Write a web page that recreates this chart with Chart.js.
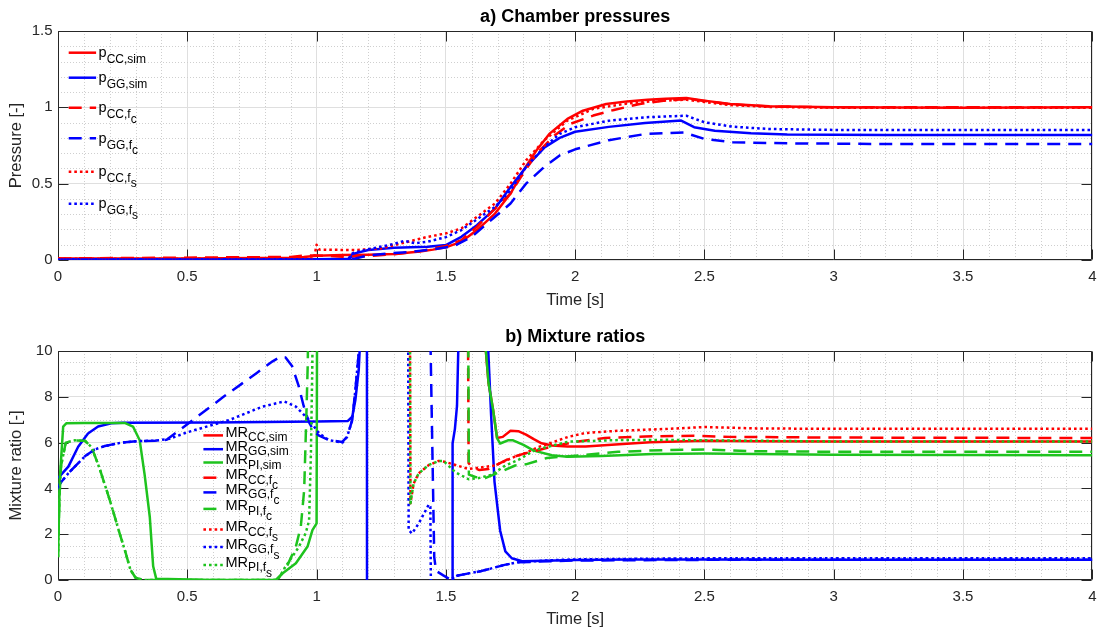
<!DOCTYPE html>
<html lang="en">
<head>
<meta charset="utf-8">
<title>Chamber pressures and mixture ratios</title>
<script src="https://cdn.jsdelivr.net/npm/chart.js@4.4.1/dist/chart.umd.min.js"></script>
<style>
  body { margin: 0; background: #fff; }
  canvas { display: block; }
</style>
</head>
<body>
<canvas id="pressureChart" width="1104" height="315"></canvas>
<canvas id="mixtureChart" width="1104" height="315"></canvas>
<script>
// Tick labels
const timeTicks = [0, 0.5, 1, 1.5, 2, 2.5, 3, 3.5, 4];
const pressureTicks = [0, 0.5, 1, 1.5];
const mixtureTicks = [0, 2, 4, 6, 8, 10];

// a) Chamber pressures
const tPccSim = [0, 0.5, 0.9, 0.95, 1.0, 1.1, 1.2, 1.3, 1.4, 1.45, 1.5, 1.56, 1.62, 1.69, 1.75, 1.8, 1.85, 1.9, 1.97, 2.03, 2.12, 2.2, 2.28, 2.35, 2.43, 2.5, 2.6, 2.75, 3.0, 3.5, 4.0];
const pCcSim = [0.01, 0.01, 0.015, 0.02, 0.028, 0.033, 0.035, 0.04, 0.055, 0.068, 0.083, 0.12, 0.196, 0.304, 0.435, 0.587, 0.717, 0.826, 0.924, 0.978, 1.022, 1.039, 1.05, 1.056, 1.061, 1.044, 1.022, 1.007, 1.0, 0.998, 1.0];
const tPggSim = [0, 1.0, 1.13, 1.14, 1.2, 1.3, 1.43, 1.5, 1.56, 1.62, 1.69, 1.75, 1.81, 1.88, 1.94, 2.0, 2.13, 2.27, 2.41, 2.46, 2.54, 2.68, 2.82, 3.2, 4.0];
const pGgSim = [0.005, 0.005, 0.008, 0.04, 0.065, 0.08, 0.087, 0.098, 0.152, 0.228, 0.337, 0.478, 0.609, 0.735, 0.8, 0.84, 0.872, 0.897, 0.913, 0.87, 0.847, 0.83, 0.822, 0.819, 0.819];
const tPccFc = [0, 0.9, 0.95, 1.0, 1.1, 1.2, 1.3, 1.4, 1.45, 1.5, 1.56, 1.62, 1.69, 1.75, 1.79, 1.85, 1.92, 1.98, 2.07, 2.15, 2.25, 2.35, 2.43, 2.5, 2.6, 2.75, 3.0, 4.0];
const pCcFc = [0.01, 0.02, 0.03, 0.03, 0.022, 0.025, 0.038, 0.058, 0.075, 0.092, 0.13, 0.217, 0.337, 0.435, 0.543, 0.696, 0.815, 0.891, 0.946, 0.983, 1.022, 1.045, 1.055, 1.042, 1.02, 1.005, 1.0, 1.0];
const tPggFc = [0, 1.1, 1.15, 1.2, 1.28, 1.37, 1.45, 1.53, 1.6, 1.69, 1.75, 1.81, 1.88, 1.94, 2.0, 2.13, 2.27, 2.42, 2.5, 2.61, 2.82, 3.2, 4.0];
const pGgFc = [0.003, 0.003, 0.01, 0.03, 0.043, 0.054, 0.07, 0.09, 0.152, 0.283, 0.37, 0.5, 0.609, 0.685, 0.725, 0.785, 0.825, 0.836, 0.793, 0.771, 0.764, 0.76, 0.76];
const tPccFs = [0, 0.99, 1.0, 1.01, 1.15, 1.25, 1.35, 1.43, 1.5, 1.56, 1.69, 1.75, 1.81, 1.88, 1.97, 2.07, 2.2, 2.3, 2.43, 2.5, 2.6, 2.75, 3.0, 4.0];
const pCcFs = [0.008, 0.01, 0.1, 0.068, 0.065, 0.076, 0.118, 0.152, 0.174, 0.207, 0.37, 0.5, 0.652, 0.783, 0.913, 0.99, 1.025, 1.04, 1.05, 1.035, 1.015, 1.003, 0.998, 0.998];
const tPggFs = [0, 1.12, 1.14, 1.2, 1.3, 1.34, 1.38, 1.43, 1.5, 1.56, 1.69, 1.75, 1.81, 1.88, 1.94, 2.0, 2.13, 2.27, 2.43, 2.5, 2.61, 2.75, 3.0, 4.0];
const pGgFs = [0.003, 0.003, 0.045, 0.07, 0.105, 0.126, 0.11, 0.12, 0.15, 0.196, 0.348, 0.457, 0.609, 0.739, 0.826, 0.87, 0.912, 0.935, 0.945, 0.902, 0.873, 0.858, 0.852, 0.852];

// b) Mixture ratios (values above 10 / below 0 run off the axes)
const tMrCcSim = [1.64, 1.665, 1.683, 1.698, 1.72, 1.75, 1.78, 1.81, 1.84, 1.87, 1.91, 1.97, 2.04, 2.17, 2.29, 2.5, 2.7, 3.0, 4.0];
const mrCcSim = [12, 8.6, 7.4, 6.2, 6.25, 6.52, 6.5, 6.35, 6.15, 5.97, 5.87, 5.83, 5.83, 5.93, 6.02, 6.08, 6.06, 6.05, 6.05];
const tMrGgSim = [0, 0.04, 0.078, 0.116, 0.155, 0.206, 0.25, 0.6, 1.0, 1.12, 1.138, 1.15, 1.163, 1.175, 1.194, 1.196, 1.524, 1.526, 1.535, 1.543, 1.552, 1.655, 1.662, 1.675, 1.688, 1.71, 1.73, 1.755, 1.795, 1.88, 2.0, 2.2, 2.5, 3.0, 4.0];
const mrGgSim = [4.45, 4.95, 5.82, 6.4, 6.7, 6.84, 6.87, 6.88, 6.92, 6.94, 7.13, 7.86, 9.17, 12, 40, -40, -40, 5.97, 6.6, 7.6, 12, 12, 10.5, 7.2, 4.3, 2.15, 1.25, 0.95, 0.82, 0.84, 0.87, 0.9, 0.9, 0.88, 0.88];
const tMrPiSim = [0, 0.007, 0.02, 0.033, 0.1, 0.258, 0.29, 0.316, 0.335, 0.355, 0.368, 0.38, 0.6, 0.843, 0.869, 0.92, 0.965, 0.984, 1.0, 1.002, 1.64, 1.665, 1.683, 1.698, 1.71, 1.74, 1.76, 1.8, 1.84, 1.91, 1.97, 2.1, 2.3, 2.5, 3.0, 4.0];
const mrPiSim = [1.0, 4.4, 6.7, 6.85, 6.86, 6.86, 6.7, 6.1, 4.6, 2.75, 0.6, 0.05, 0, 0, 0.29, 0.73, 1.46, 2.18, 2.47, 12, 12, 8.6, 7.4, 6.2, 5.96, 6.1, 6.1, 5.9, 5.65, 5.45, 5.38, 5.42, 5.5, 5.52, 5.47, 5.45];
const tMrCcFc = [1.585, 1.588, 1.6, 1.63, 1.665, 1.7, 1.754, 1.806, 1.86, 1.909, 2.012, 2.115, 2.27, 2.46, 2.6, 3.0, 4.0];
const mrCcFc = [12, 5.1, 4.95, 4.8, 4.85, 5.05, 5.35, 5.53, 5.68, 5.82, 6.05, 6.2, 6.27, 6.3, 6.25, 6.22, 6.2];
const tMrGgFc = [0, 0.007, 0.04, 0.104, 0.142, 0.181, 0.245, 0.31, 0.374, 0.42, 0.5, 0.64, 0.77, 0.83, 0.86, 0.88, 0.905, 0.93, 0.95, 0.97, 0.99, 1.01, 1.048, 1.099, 1.118, 1.138, 1.15, 1.163, 1.172, 1.438, 1.455, 1.462, 1.49, 1.513, 1.547, 1.637, 1.727, 1.778, 1.9, 2.0, 2.5, 3.0, 4.0];
const mrGgFc = [3.97, 4.2, 4.66, 5.4, 5.7, 5.85, 6.0, 6.07, 6.08, 6.12, 6.8, 8.0, 9.05, 9.55, 9.75, 9.72, 9.35, 8.5, 7.6, 6.9, 6.5, 6.3, 6.11, 6.03, 6.25, 6.99, 8.3, 9.9, 12, 12, 1.0, 0.4, 0.2, 0.05, 0.2, 0.39, 0.66, 0.77, 0.82, 0.85, 0.88, 0.88, 0.88];
const tMrPiFc = [0, 0.005, 0.012, 0.03, 0.065, 0.104, 0.13, 0.16, 0.2, 0.238, 0.26, 0.28, 0.3, 0.33, 0.6, 0.843, 0.862, 0.888, 0.92, 0.939, 0.952, 0.96, 0.966, 0.968, 1.586, 1.589, 1.614, 1.652, 1.716, 1.768, 1.809, 1.891, 2.037, 2.166, 2.36, 2.5, 2.7, 3.0, 4.0];
const mrPiFc = [1.0, 3.5, 5.0, 6.0, 6.1, 6.08, 5.8, 4.9, 3.5, 2.05, 1.25, 0.45, 0.1, 0, 0, 0, 0.22, 0.66, 1.46, 2.33, 3.93, 7.0, 9.5, 12, 12, 4.6, 4.5, 4.45, 4.75, 5.0, 5.05, 5.33, 5.46, 5.6, 5.68, 5.7, 5.62, 5.6, 5.6];
const tMrCcFs = [1.361, 1.363, 1.375, 1.395, 1.434, 1.472, 1.5, 1.537, 1.588, 1.627, 1.69, 1.767, 1.81, 1.857, 1.909, 1.973, 2.04, 2.17, 2.36, 2.5, 2.7, 3.0, 4.0];
const mrCcFs = [12, 3.35, 4.2, 4.66, 5.02, 5.2, 5.15, 5.02, 4.85, 4.9, 5.0, 5.39, 5.55, 5.8, 6.0, 6.25, 6.42, 6.52, 6.6, 6.68, 6.62, 6.6, 6.6];
const tMrGgFs = [0, 0.007, 0.04, 0.104, 0.142, 0.181, 0.245, 0.31, 0.374, 0.432, 0.5, 0.663, 0.791, 0.875, 0.92, 0.971, 1.01, 1.048, 1.1, 1.118, 1.138, 1.15, 1.163, 1.172, 1.354, 1.356, 1.369, 1.395, 1.42, 1.434, 1.44, 1.443, 1.51, 1.52, 1.547, 1.637, 1.727, 1.778, 1.9, 2.0, 2.5, 3.0, 4.0];
const mrGgFs = [3.97, 4.2, 4.66, 5.4, 5.7, 5.85, 6.0, 6.07, 6.08, 6.17, 6.45, 6.99, 7.57, 7.8, 7.57, 6.99, 6.4, 6.11, 6.0, 6.25, 6.99, 8.3, 9.9, 12, 12, 2.18, 2.03, 2.47, 3.0, 3.3, 3.2, -2, -2, 0.05, 0.2, 0.39, 0.66, 0.77, 0.86, 0.9, 0.95, 0.95, 0.95];
const tMrPiFs = [0, 0.005, 0.012, 0.03, 0.065, 0.104, 0.13, 0.16, 0.2, 0.238, 0.26, 0.28, 0.3, 0.33, 0.6, 0.85, 0.875, 0.93, 0.958, 0.971, 0.978, 0.983, 0.986, 1.361, 1.363, 1.375, 1.395, 1.434, 1.472, 1.491, 1.537, 1.588, 1.627, 1.678, 1.73, 1.78, 1.845, 1.973, 2.166, 2.36, 2.5, 3.0, 4.0];
const mrPiFs = [1.0, 3.5, 5.0, 6.0, 6.1, 6.08, 5.8, 4.9, 3.5, 2.05, 1.25, 0.45, 0.1, 0, 0, 0, 0.5, 1.42, 2.05, 2.59, 5.5, 9.0, 12, 12, 3.35, 4.2, 4.66, 5.02, 5.2, 5.2, 4.7, 4.4, 4.45, 4.6, 5.0, 5.24, 5.68, 6.04, 6.11, 6.12, 6.1, 6.05, 6.05];

const FONT = "'Liberation Sans', Arial, Helvetica, sans-serif";
const RED = '#ff0000', BLUE = '#0000ff', GREEN = '#1ec31e';
const SOLID = [], DASHED = [13, 8], DOTTED = [2.6, 3];
const AXIS_COLOR = '#262626';

Chart.defaults.font.family = FONT;

function toPoints(t, v) {
    return t.map((x, i) => ({ x: x, y: v[i] }));
}

// later series are drawn on top, as in the original plot
function makeDatasets(list) {
    return list.map((s, i) => ({
        label: s.parts.join(''),
        labelParts: s.parts,
        data: toPoints(s.t, s.v),
        borderColor: s.color,
        borderDash: s.dash,
        borderWidth: 2.5,
        borderCapStyle: 'butt',
        borderJoinStyle: 'round',
        pointRadius: 0,
        tension: 0,
        fill: false,
        order: list.length - i
    }));
}

function minorValues(min, max, step, majors) {
    const out = [];
    for (let k = 1; min + k * step < max - 1e-9; k++) {
        const v = min + k * step;
        if (!majors.some(m => Math.abs(m - v) < 1e-9)) out.push(v);
    }
    return out;
}

// Minor dotted grid, axes box and inward tick marks
const matlabAxes = {
    id: 'matlabAxes',
    beforeDatasetsDraw(chart, args, o) {
        const { ctx, chartArea: a, scales: { x, y } } = chart;
        const px = v => Math.round(x.getPixelForValue(v)) + 0.5;
        const py = v => Math.round(y.getPixelForValue(v)) + 0.5;
        ctx.save();
        ctx.lineWidth = 1;
        ctx.strokeStyle = '#cfcfcf';
        ctx.setLineDash([1, 2]);
        ctx.beginPath();
        minorValues(x.min, x.max, o.xMinor, o.xTicks).forEach(v => {
            ctx.moveTo(px(v), a.top);
            ctx.lineTo(px(v), a.bottom);
        });
        minorValues(y.min, y.max, o.yMinor, o.yTicks).forEach(v => {
            ctx.moveTo(a.left, py(v));
            ctx.lineTo(a.right, py(v));
        });
        ctx.stroke();

        ctx.setLineDash([]);
        ctx.strokeStyle = AXIS_COLOR;
        ctx.beginPath();
        const l = Math.round(a.left) + 0.5, r = Math.round(a.right) - 0.5;
        const t = Math.round(a.top) + 0.5, b = Math.round(a.bottom) - 0.5;
        ctx.rect(l, t, r - l, b - t);
        o.xTicks.forEach(v => {
            ctx.moveTo(px(v), b); ctx.lineTo(px(v), b - o.tickLen);
            ctx.moveTo(px(v), t); ctx.lineTo(px(v), t + o.tickLen);
        });
        o.yTicks.forEach(v => {
            ctx.moveTo(l, py(v)); ctx.lineTo(l + o.tickLen, py(v));
            ctx.moveTo(r, py(v)); ctx.lineTo(r - o.tickLen, py(v));
        });
        ctx.stroke();
        ctx.restore();
    }
};

// Legend with TeX-like subscripts
const texLegend = {
    id: 'texLegend',
    afterDatasetsDraw(chart, args, o) {
        const ctx = chart.ctx;
        chart.data.datasets.forEach((ds, i) => {
            const y = o.rows[i];
            ctx.save();
            ctx.beginPath();
            ctx.strokeStyle = ds.borderColor;
            ctx.lineWidth = ds.borderWidth;
            ctx.lineCap = 'butt';
            ctx.setLineDash(ds.borderDash);
            ctx.moveTo(o.left, y);
            ctx.lineTo(o.left + o.sample, y);
            ctx.stroke();
            ctx.setLineDash([]);
            ctx.fillStyle = '#000';
            ctx.textBaseline = 'alphabetic';
            let tx = o.left + o.sample + o.gap;
            let ty = y + o.baseline;
            ds.labelParts.forEach((part, k) => {
                if (k > 0) ty += o.subDrop[k - 1];
                ctx.font = (k === 0 ? o.mainSize : o.subSize) + 'px ' + FONT;
                ctx.fillText(part, tx, ty);
                tx += ctx.measureText(part).width;
            });
            ctx.restore();
        });
    }
};

const plainNumber = value => String(+value.toFixed(3));

function buildChart(id, cfg) {
    return new Chart(document.getElementById(id), {
        type: 'line',
        data: { datasets: makeDatasets(cfg.series) },
        options: {
            responsive: false,
            animation: false,
            devicePixelRatio: 1,
            events: [],
            layout: { padding: { left: 0, right: 8, top: 0, bottom: 0 } },
            scales: {
                x: {
                    type: 'linear',
                    min: 0,
                    max: 4,
                    afterBuildTicks: s => { s.ticks = timeTicks.map(v => ({ value: v })); },
                    afterFit: s => { s.height = cfg.xHeight; },
                    grid: { color: '#dfdfdf', drawTicks: false },
                    border: { display: false },
                    ticks: { color: AXIS_COLOR, font: { size: 15 }, padding: 7.5, maxRotation: 0, autoSkip: false, callback: plainNumber },
                    title: {
                        display: true,
                        text: 'Time [s]',
                        color: AXIS_COLOR,
                        font: { size: 16.5 },
                        padding: { top: 0, bottom: cfg.xTitlePad }
                    }
                },
                y: {
                    type: 'linear',
                    min: cfg.yTicks[0],
                    max: cfg.yTicks[cfg.yTicks.length - 1],
                    afterBuildTicks: s => { s.ticks = cfg.yTicks.map(v => ({ value: v })); },
                    afterFit: s => { s.width = 58; },
                    grid: { color: '#dfdfdf', drawTicks: false },
                    border: { display: false },
                    ticks: { color: AXIS_COLOR, font: { size: 15 }, padding: 5.5, callback: plainNumber },
                    title: {
                        display: true,
                        text: cfg.yTitle,
                        color: AXIS_COLOR,
                        font: { size: 16.5 },
                        padding: { top: 7, bottom: 0 }
                    }
                }
            },
            plugins: {
                legend: { display: false },
                tooltip: { enabled: false },
                title: {
                    display: true,
                    text: cfg.title,
                    color: '#000',
                    fullSize: false,
                    font: { size: 18, weight: 'bold' },
                    padding: { top: cfg.titleTop, bottom: 3.2 }
                },
                matlabAxes: { xTicks: timeTicks, yTicks: cfg.yTicks, xMinor: 0.1, yMinor: cfg.yMinor, tickLen: 10 },
                texLegend: cfg.legend
            }
        },
        plugins: [matlabAxes, texLegend]
    });
}

buildChart('pressureChart', {
    title: 'a) Chamber pressures',
    yTitle: 'Pressure [-]',
    yTicks: pressureTicks,
    yMinor: 0.1,
    xHeight: 55,
    xTitlePad: 5,
    titleTop: 6.2,
    legend: {
        rows: [52.7, 77.7, 107.7, 138.3, 171.7, 203.7],
        left: 68.7, sample: 27.4, gap: 2.5, baseline: 4.4,
        subDrop: [6, 5], mainSize: 14.5, subSize: 12
    },
    series: [
        { parts: ['p', 'CC,sim'], t: tPccSim, v: pCcSim, color: RED, dash: SOLID },
        { parts: ['p', 'GG,sim'], t: tPggSim, v: pGgSim, color: BLUE, dash: SOLID },
        { parts: ['p', 'CC,f', 'c'], t: tPccFc, v: pCcFc, color: RED, dash: DASHED },
        { parts: ['p', 'GG,f', 'c'], t: tPggFc, v: pGgFc, color: BLUE, dash: DASHED },
        { parts: ['p', 'CC,f', 's'], t: tPccFs, v: pCcFs, color: RED, dash: DOTTED },
        { parts: ['p', 'GG,f', 's'], t: tPggFs, v: pGgFs, color: BLUE, dash: DOTTED }
    ]
});

buildChart('mixtureChart', {
    title: 'b) Mixture ratios',
    yTitle: 'Mixture ratio [-]',
    yTicks: mixtureTicks,
    yMinor: 0.5,
    xHeight: 50,
    xTitlePad: 1,
    titleTop: 11.2,
    legend: {
        rows: [120.4, 134.2, 147.5, 162.7, 177.4, 193.9, 214.5, 232, 250],
        left: 203.4, sample: 19.6, gap: 2.5, baseline: 1.5,
        subDrop: [4.5, 5.5], mainSize: 14.5, subSize: 12
    },
    series: [
        { parts: ['MR', 'CC,sim'], t: tMrCcSim, v: mrCcSim, color: RED, dash: SOLID },
        { parts: ['MR', 'GG,sim'], t: tMrGgSim, v: mrGgSim, color: BLUE, dash: SOLID },
        { parts: ['MR', 'PI,sim'], t: tMrPiSim, v: mrPiSim, color: GREEN, dash: SOLID },
        { parts: ['MR', 'CC,f', 'c'], t: tMrCcFc, v: mrCcFc, color: RED, dash: DASHED },
        { parts: ['MR', 'GG,f', 'c'], t: tMrGgFc, v: mrGgFc, color: BLUE, dash: DASHED },
        { parts: ['MR', 'PI,f', 'c'], t: tMrPiFc, v: mrPiFc, color: GREEN, dash: DASHED },
        { parts: ['MR', 'CC,f', 's'], t: tMrCcFs, v: mrCcFs, color: RED, dash: DOTTED },
        { parts: ['MR', 'GG,f', 's'], t: tMrGgFs, v: mrGgFs, color: BLUE, dash: DOTTED },
        { parts: ['MR', 'PI,f', 's'], t: tMrPiFs, v: mrPiFs, color: GREEN, dash: DOTTED }
    ]
});
</script>
</body>
</html>
